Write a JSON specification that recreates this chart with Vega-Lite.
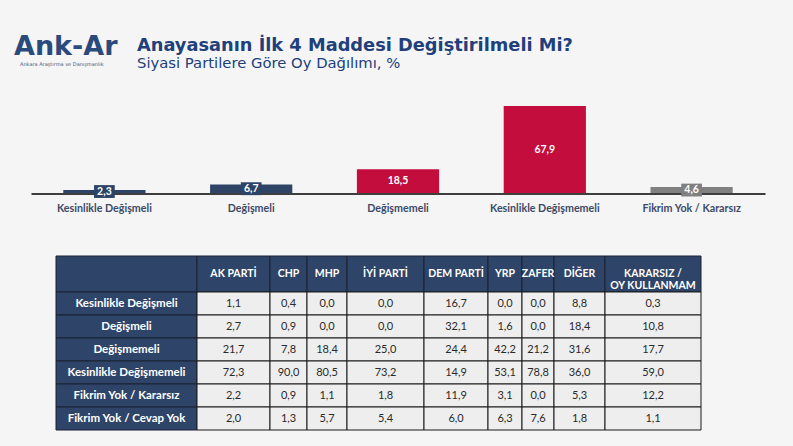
{
  "$schema": "https://vega.github.io/schema/vega-lite/v6.json",
  "width": 793,
  "height": 446,
  "autosize": {"type": "fit", "contains": "padding"},
  "padding": 0,
  "background": "#f5f5f6",
  "config": {
    "view": {"stroke": null},
    "locale": {"number": {"decimal": ",", "thousands": ".", "grouping": [3], "currency": ["", " TL"]}}
  },
  "datasets": {
    "bars": [
      {"kategori": "Kesinlikle Değişmeli", "oran": 2.3},
      {"kategori": "Değişmeli", "oran": 6.7},
      {"kategori": "Değişmemeli", "oran": 18.5},
      {"kategori": "Kesinlikle Değişmemeli", "oran": 67.9},
      {"kategori": "Fikrim Yok / Kararsız", "oran": 4.6}
    ],
    "cols": [
      {"parti": "", "baslik": "", "sira": 0},
      {"parti": "AK PARTİ", "baslik": "AK PARTİ", "sira": 1},
      {"parti": "CHP", "baslik": "CHP", "sira": 2},
      {"parti": "MHP", "baslik": "MHP", "sira": 3},
      {"parti": "İYİ PARTİ", "baslik": "İYİ PARTİ", "sira": 4},
      {"parti": "DEM PARTİ", "baslik": "DEM PARTİ", "sira": 5},
      {"parti": "YRP", "baslik": "YRP", "sira": 6},
      {"parti": "ZAFER", "baslik": "ZAFER", "sira": 7},
      {"parti": "DİĞER", "baslik": "DİĞER", "sira": 8},
      {"parti": "KARARSIZ / OY KULLANMAM", "baslik": "KARARSIZ /\nOY KULLANMAM", "sira": 9}
    ],
    "rows": [
      {"satir": "Kesinlikle Değişmeli", "no": 1},
      {"satir": "Değişmeli", "no": 2},
      {"satir": "Değişmemeli", "no": 3},
      {"satir": "Kesinlikle Değişmemeli", "no": 4},
      {"satir": "Fikrim Yok / Kararsız", "no": 5},
      {"satir": "Fikrim Yok / Cevap Yok", "no": 6}
    ],
    "cells": [
      {"satir": "Kesinlikle Değişmeli", "parti": "AK PARTİ", "oran": 1.1},
      {"satir": "Kesinlikle Değişmeli", "parti": "CHP", "oran": 0.4},
      {"satir": "Kesinlikle Değişmeli", "parti": "MHP", "oran": 0.0},
      {"satir": "Kesinlikle Değişmeli", "parti": "İYİ PARTİ", "oran": 0.0},
      {"satir": "Kesinlikle Değişmeli", "parti": "DEM PARTİ", "oran": 16.7},
      {"satir": "Kesinlikle Değişmeli", "parti": "YRP", "oran": 0.0},
      {"satir": "Kesinlikle Değişmeli", "parti": "ZAFER", "oran": 0.0},
      {"satir": "Kesinlikle Değişmeli", "parti": "DİĞER", "oran": 8.8},
      {"satir": "Kesinlikle Değişmeli", "parti": "KARARSIZ / OY KULLANMAM", "oran": 0.3},
      {"satir": "Değişmeli", "parti": "AK PARTİ", "oran": 2.7},
      {"satir": "Değişmeli", "parti": "CHP", "oran": 0.9},
      {"satir": "Değişmeli", "parti": "MHP", "oran": 0.0},
      {"satir": "Değişmeli", "parti": "İYİ PARTİ", "oran": 0.0},
      {"satir": "Değişmeli", "parti": "DEM PARTİ", "oran": 32.1},
      {"satir": "Değişmeli", "parti": "YRP", "oran": 1.6},
      {"satir": "Değişmeli", "parti": "ZAFER", "oran": 0.0},
      {"satir": "Değişmeli", "parti": "DİĞER", "oran": 18.4},
      {"satir": "Değişmeli", "parti": "KARARSIZ / OY KULLANMAM", "oran": 10.8},
      {"satir": "Değişmemeli", "parti": "AK PARTİ", "oran": 21.7},
      {"satir": "Değişmemeli", "parti": "CHP", "oran": 7.8},
      {"satir": "Değişmemeli", "parti": "MHP", "oran": 18.4},
      {"satir": "Değişmemeli", "parti": "İYİ PARTİ", "oran": 25.0},
      {"satir": "Değişmemeli", "parti": "DEM PARTİ", "oran": 24.4},
      {"satir": "Değişmemeli", "parti": "YRP", "oran": 42.2},
      {"satir": "Değişmemeli", "parti": "ZAFER", "oran": 21.2},
      {"satir": "Değişmemeli", "parti": "DİĞER", "oran": 31.6},
      {"satir": "Değişmemeli", "parti": "KARARSIZ / OY KULLANMAM", "oran": 17.7},
      {"satir": "Kesinlikle Değişmemeli", "parti": "AK PARTİ", "oran": 72.3},
      {"satir": "Kesinlikle Değişmemeli", "parti": "CHP", "oran": 90.0},
      {"satir": "Kesinlikle Değişmemeli", "parti": "MHP", "oran": 80.5},
      {"satir": "Kesinlikle Değişmemeli", "parti": "İYİ PARTİ", "oran": 73.2},
      {"satir": "Kesinlikle Değişmemeli", "parti": "DEM PARTİ", "oran": 14.9},
      {"satir": "Kesinlikle Değişmemeli", "parti": "YRP", "oran": 53.1},
      {"satir": "Kesinlikle Değişmemeli", "parti": "ZAFER", "oran": 78.8},
      {"satir": "Kesinlikle Değişmemeli", "parti": "DİĞER", "oran": 36.0},
      {"satir": "Kesinlikle Değişmemeli", "parti": "KARARSIZ / OY KULLANMAM", "oran": 59.0},
      {"satir": "Fikrim Yok / Kararsız", "parti": "AK PARTİ", "oran": 2.2},
      {"satir": "Fikrim Yok / Kararsız", "parti": "CHP", "oran": 0.9},
      {"satir": "Fikrim Yok / Kararsız", "parti": "MHP", "oran": 1.1},
      {"satir": "Fikrim Yok / Kararsız", "parti": "İYİ PARTİ", "oran": 1.8},
      {"satir": "Fikrim Yok / Kararsız", "parti": "DEM PARTİ", "oran": 11.9},
      {"satir": "Fikrim Yok / Kararsız", "parti": "YRP", "oran": 3.1},
      {"satir": "Fikrim Yok / Kararsız", "parti": "ZAFER", "oran": 0.0},
      {"satir": "Fikrim Yok / Kararsız", "parti": "DİĞER", "oran": 5.3},
      {"satir": "Fikrim Yok / Kararsız", "parti": "KARARSIZ / OY KULLANMAM", "oran": 12.2},
      {"satir": "Fikrim Yok / Cevap Yok", "parti": "AK PARTİ", "oran": 2.0},
      {"satir": "Fikrim Yok / Cevap Yok", "parti": "CHP", "oran": 1.3},
      {"satir": "Fikrim Yok / Cevap Yok", "parti": "MHP", "oran": 5.7},
      {"satir": "Fikrim Yok / Cevap Yok", "parti": "İYİ PARTİ", "oran": 5.4},
      {"satir": "Fikrim Yok / Cevap Yok", "parti": "DEM PARTİ", "oran": 6.0},
      {"satir": "Fikrim Yok / Cevap Yok", "parti": "YRP", "oran": 6.3},
      {"satir": "Fikrim Yok / Cevap Yok", "parti": "ZAFER", "oran": 7.6},
      {"satir": "Fikrim Yok / Cevap Yok", "parti": "DİĞER", "oran": 1.8},
      {"satir": "Fikrim Yok / Cevap Yok", "parti": "KARARSIZ / OY KULLANMAM", "oran": 1.1}
    ]
  },
  "layer": [
    {
      "data": {"name": "bars"},
      "transform": [{"calculate": "datum.oran / 2", "as": "orta"}],
      "encoding": {
        "x": {
          "field": "kategori", "type": "nominal", "sort": null,
          "scale": {
            "domain": ["Kesinlikle Değişmeli", "Değişmeli", "Değişmemeli", "Kesinlikle Değişmemeli", "Fikrim Yok / Kararsız"],
            "range": [31, 765], "paddingInner": 0.44, "paddingOuter": 0.22
          },
          "axis": {
            "orient": "bottom", "offset": -252.5, "title": null, "ticks": false, "grid": false,
            "domainColor": "#000000", "domainOpacity": 1, "domainWidth": 1.3, "labelAngle": 0,
            "labelFont": "Lato", "labelFontWeight": "bold", "labelFontSize": 10.7,
            "labelColor": "#3d4a66", "labelPadding": 10
          }
        }
      },
      "layer": [
        {
          "mark": {"type": "bar"},
          "encoding": {
            "y": {"field": "oran", "type": "quantitative", "scale": {"domain": [0, 67.9], "range": [193, 106], "nice": false}, "axis": null},
            "color": {
              "field": "kategori", "type": "nominal", "legend": null,
              "scale": {
                "domain": ["Kesinlikle Değişmeli", "Değişmeli", "Değişmemeli", "Kesinlikle Değişmemeli", "Fikrim Yok / Kararsız"],
                "range": ["#2d4467", "#2d4467", "#c30d3c", "#c30d3c", "#808080"]
              }
            }
          }
        },
        {
          "mark": {"type": "point", "shape": "M-1,-0.62L1,-0.62L1,0.62L-1,0.62Z", "filled": true, "opacity": 1, "size": 430, "strokeWidth": 0},
          "encoding": {
            "y": {"field": "orta", "type": "quantitative"},
            "color": {"field": "kategori", "type": "nominal", "legend": null}
          }
        },
        {
          "mark": {"type": "text", "font": "Lato", "fontWeight": "bold", "fontSize": 10.5, "baseline": "middle"},
          "encoding": {
            "y": {"field": "orta", "type": "quantitative"},
            "color": {"value": "#ffffff"},
            "text": {"field": "oran", "type": "quantitative", "format": ".1f"}
          }
        }
      ]
    },
    {
      "layer": [
        {
          "data": {"name": "cols"},
          "transform": [
            {"calculate": "datum.sira + 1", "as": "sira2"},
            {"calculate": "datum.sira + 0.5", "as": "siraOrta"}
          ],
          "layer": [
            {
              "mark": {"type": "rect", "fill": "#2e4468", "stroke": "#1a2233", "strokeWidth": 1},
              "encoding": {
                "x": {"field": "sira", "type": "quantitative", "axis": null,
                  "scale": {"domain": [0, 1, 2, 3, 4, 5, 6, 7, 8, 9, 10], "range": [56, 197, 270, 307, 347, 424, 488, 522, 554, 605, 701], "nice": false, "zero": false}},
                "x2": {"field": "sira2"},
                "y": {"datum": 0, "type": "quantitative", "axis": null,
                  "scale": {"domain": [0, 1, 2, 3, 4, 5, 6, 7], "range": [256, 292, 315, 338, 361, 384, 407, 430], "nice": false, "zero": false}},
                "y2": {"datum": 1}
              }
            },
            {
              "mark": {"type": "text", "font": "Lato", "fontWeight": "bold", "fontSize": 10.5, "color": "white", "lineBreak": "\n", "baseline": "middle", "lineHeight": 12},
              "encoding": {
                "x": {"field": "siraOrta", "type": "quantitative"},
                "y": {"datum": 0.5, "type": "quantitative"},
                "text": {"field": "baslik"}
              }
            }
          ]
        },
        {
          "data": {"name": "rows"},
          "transform": [
            {"calculate": "datum.no + 1", "as": "no2"},
            {"calculate": "datum.no + 0.5", "as": "noOrta"}
          ],
          "layer": [
            {
              "mark": {"type": "rect", "fill": "#2e4468", "stroke": "#1a2233", "strokeWidth": 1},
              "encoding": {
                "x": {"datum": 0, "type": "quantitative"},
                "x2": {"datum": 1},
                "y": {"field": "no", "type": "quantitative"},
                "y2": {"field": "no2"}
              }
            },
            {
              "mark": {"type": "text", "font": "Lato", "fontWeight": "bold", "fontSize": 11.5, "color": "white", "baseline": "middle"},
              "encoding": {
                "x": {"datum": 0.5, "type": "quantitative"},
                "y": {"field": "noOrta", "type": "quantitative"},
                "text": {"field": "satir"}
              }
            }
          ]
        },
        {
          "data": {"name": "cells"},
          "transform": [
            {"lookup": "parti", "from": {"data": {"name": "cols"}, "key": "parti", "fields": ["sira"]}},
            {"lookup": "satir", "from": {"data": {"name": "rows"}, "key": "satir", "fields": ["no"]}},
            {"calculate": "datum.sira + 1", "as": "sira2"},
            {"calculate": "datum.no + 1", "as": "no2"},
            {"calculate": "datum.sira + 0.5", "as": "siraOrta"},
            {"calculate": "datum.no + 0.5", "as": "noOrta"}
          ],
          "layer": [
            {
              "mark": {"type": "rect", "fill": "#eeeeee", "stroke": "#1b1b1b", "strokeWidth": 1},
              "encoding": {
                "x": {"field": "sira", "type": "quantitative"},
                "x2": {"field": "sira2"},
                "y": {"field": "no", "type": "quantitative"},
                "y2": {"field": "no2"}
              }
            },
            {
              "mark": {"type": "text", "font": "Lato", "fontSize": 11, "color": "#2a2a2a", "baseline": "middle"},
              "encoding": {
                "x": {"field": "siraOrta", "type": "quantitative"},
                "y": {"field": "noOrta", "type": "quantitative"},
                "text": {"field": "oran", "type": "quantitative", "format": ".1f"}
              }
            }
          ]
        }
      ]
    },
    {
      "data": {"values": [{"logo": "Ank-Ar", "alt": "Ankara Araştırma ve Danışmanlık", "baslik": "Anayasanın İlk 4 Maddesi Değiştirilmeli Mi?", "altbaslik": "Siyasi Partilere Göre Oy Dağılımı, %"}]},
      "layer": [
        {"mark": {"type": "text", "x": 14, "y": 55, "align": "left", "baseline": "alphabetic", "font": "DejaVu Sans", "fontWeight": "bold", "fontSize": 27, "color": "#2b4a7c"}, "encoding": {"text": {"field": "logo"}}},
        {"mark": {"type": "text", "x": 20, "y": 66, "align": "left", "baseline": "alphabetic", "font": "DejaVu Sans", "fontSize": 5, "color": "#4a5a78"}, "encoding": {"text": {"field": "alt"}}},
        {"mark": {"type": "text", "x": 137, "y": 51, "align": "left", "baseline": "alphabetic", "font": "DejaVu Sans", "fontWeight": "bold", "fontSize": 17.8, "color": "#213f7a"}, "encoding": {"text": {"field": "baslik"}}},
        {"mark": {"type": "text", "x": 137, "y": 68, "align": "left", "baseline": "alphabetic", "font": "DejaVu Sans", "fontSize": 14.8, "color": "#213f7a"}, "encoding": {"text": {"field": "altbaslik"}}}
      ]
    }
  ],
  "resolve": {"scale": {"x": "independent", "y": "independent", "color": "independent"}}
}
